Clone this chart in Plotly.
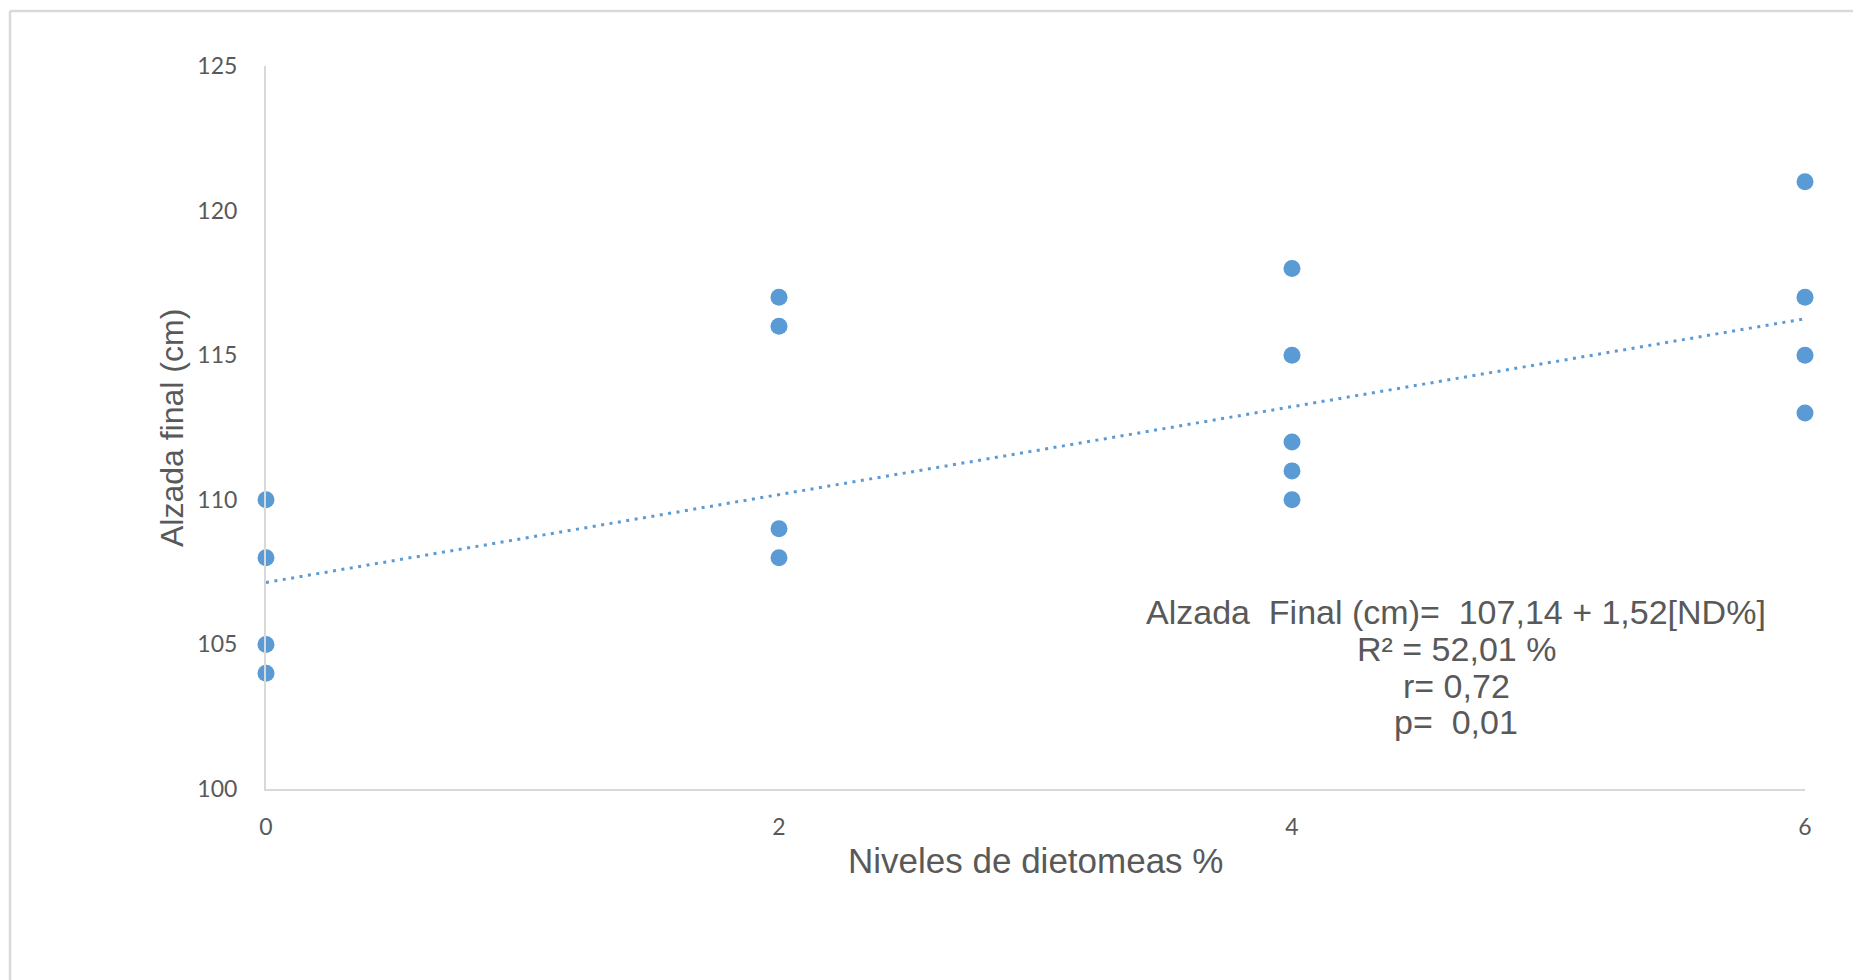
import plotly.graph_objects as go

# Data
x_levels = [0, 0, 0, 0,
            2, 2, 2, 2,
            4, 4, 4, 4, 4,
            6, 6, 6, 6]
alzada = [110, 108, 105, 104,
          117, 116, 109, 108,
          118, 115, 112, 111, 110,
          121, 117, 115, 113]

intercept = 107.14
slope = 1.52
trend_x = [0, 6]
trend_y = [intercept + slope * v for v in trend_x]

x_ticks = [0, 2, 4, 6]
y_ticks = [100, 105, 110, 115, 120, 125]

eq_lines = ["Alzada  Final (cm)=  107,14 + 1,52[ND%]",
            "R² = 52,01 %",
            "r= 0,72",
            "p=  0,01"]

BLUE = "#5B9BD5"
GRAY_TXT = "#595959"
AXIS = "#D9D9D9"

OFF = 8  # page body margin offset
W, H = 1861 - OFF, 980 - OFF
# plot area in page pixels
PL, PR, PT, PB = 266, 1805, 66, 789
L, R, T, B = PL - OFF, PR - OFF, PT - OFF, PB - OFF

fig = go.Figure()
fig.add_trace(go.Scatter(x=trend_x, y=trend_y, mode="lines",
                         line=dict(color=BLUE, width=3, dash="3px,5.5px"),
                         hoverinfo="skip", showlegend=False))
fig.add_trace(go.Scatter(x=x_levels, y=alzada, mode="markers",
                         marker=dict(color=BLUE, size=17, line=dict(width=0)),
                         cliponaxis=False, showlegend=False))

def px_x(p):
    return (p - PL) / (PR - PL)

def px_y(p):
    return (PB - p) / (PB - PT)

annotations = []
annotations.append(dict(x=px_x(1035.5), y=px_y(860), xref="paper", yref="paper",
                        text="Niveles de dietomeas %", showarrow=False,
                        xanchor="center", yanchor="middle",
                        font=dict(family="Liberation Sans, Arial", size=35, color=GRAY_TXT)))
annotations.append(dict(x=px_x(172), y=px_y(428), xref="paper", yref="paper",
                        text="Alzada final (cm)", showarrow=False, textangle=-90,
                        xanchor="center", yanchor="middle",
                        font=dict(family="Liberation Sans, Arial", size=32, color=GRAY_TXT)))
for txt, yc in zip(eq_lines, [612, 649, 686, 722]):
    annotations.append(dict(x=px_x(1456), y=px_y(yc), xref="paper", yref="paper",
                            text=txt, showarrow=False, xanchor="center", yanchor="middle",
                            font=dict(family="Liberation Sans, Arial", size=34, color=GRAY_TXT)))

shapes = [
    dict(type="line", xref="paper", yref="paper",
         x0=px_x(10), x1=px_x(1900), y0=px_y(11), y1=px_y(11),
         line=dict(color=AXIS, width=2.5)),
    dict(type="line", xref="paper", yref="paper",
         x0=px_x(10), x1=px_x(10), y0=px_y(11), y1=px_y(1000),
         line=dict(color=AXIS, width=2.5)),
]

fig.update_layout(
    width=W, height=H,
    margin=dict(l=L, r=W - R, t=T, b=H - B, pad=0),
    paper_bgcolor="white", plot_bgcolor="white",
    xaxis=dict(range=[0, 6], tickvals=x_ticks, showgrid=False, zeroline=False,
               showline=True, linecolor=AXIS, linewidth=2, ticks="",
               ticklabelstandoff=16,
               tickfont=dict(family="Lato", size=23, color=GRAY_TXT)),
    yaxis=dict(range=[100, 125], tickvals=y_ticks, showgrid=False, zeroline=False,
               showline=True, linecolor=AXIS, linewidth=2, ticks="",
               ticklabelstandoff=22,
               tickfont=dict(family="Lato", size=23, color=GRAY_TXT)),
    annotations=annotations,
    shapes=shapes,
    showlegend=False,
)

fig.write_html("out.html")
